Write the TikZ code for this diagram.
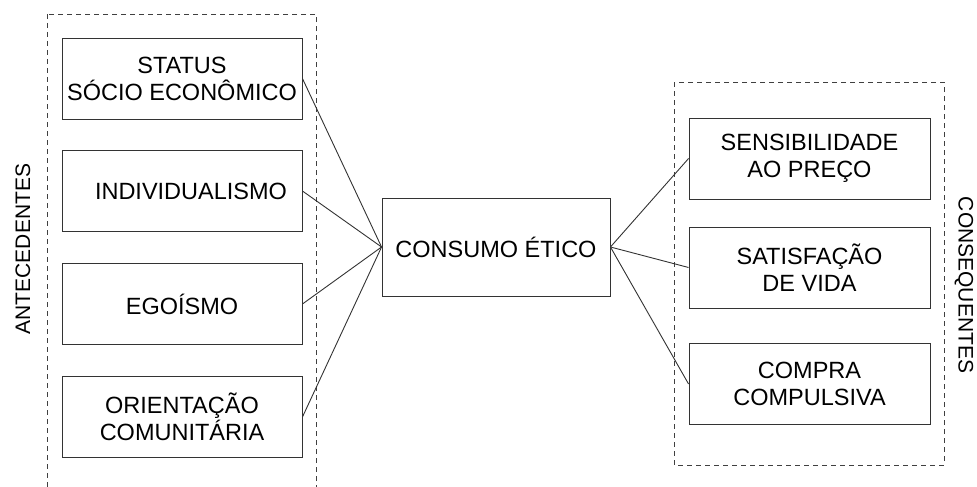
\documentclass[tikz,border=0pt]{standalone}
\usepackage{fontspec}
\setmainfont{Liberation Sans}
\providecommand{\modeloLineColor}{black!80}
\providecommand{\modeloLineWidth}{0.9pt}
\providecommand{\modeloDashColor}{black!75}
\tikzset{
  fator/.style={draw=\modeloLineColor, line width=\modeloLineWidth, minimum width=240pt,
    minimum height=81pt, inner sep=0pt, align=center, font=\fontsize{23.5}{27}\selectfont},
  grupo/.style={draw=\modeloDashColor, line width=\modeloLineWidth, dash pattern=on 5pt off 4pt},
  rotulo/.style={font=\fontsize{21}{25}\selectfont, inner sep=0pt},
  ligacao/.style={draw=\modeloLineColor, line width=\modeloLineWidth}
}
\begin{document}
\begin{tikzpicture}[x=1pt, y=-1pt]
% page frame in pixel units
\useasboundingbox (0,0) rectangle (977,487);
\clip (0,0) rectangle (977,487);
% Dashed groups
\draw[grupo] (47,14) rectangle (316,500);
\draw[grupo] (674,82) rectangle (944,465);
\node[rotulo, rotate=90] (antec) at (23,249) {ANTECEDENTES};
\node[rotulo, rotate=-90] (conseq) at (964,285) {CONSEQUENTES};
% Antecedents
\node[fator] (status) at (182,78.5) {STATUS\\SÓCIO ECONÔMICO};
\node[fator] (indiv) at (182,191) {\hspace*{18pt}INDIVIDUALISMO};
\node[fator] (ego) at (182,304) {EGOÍSMO};
\node[fator] (orient) at (182,417) {ORIENTAÇÃO\\COMUNITÁRIA};
% Central construct
\node[fator, minimum width=228pt, minimum height=98pt] (consumo) at (496,247) {CONSUMO ÉTICO};
% Consequents
\node[fator, minimum width=241pt] (sensib) at (809.5,158.5) {SENSIBILIDADE\\AO PREÇO};
\node[fator, minimum width=241pt] (satisf) at (809.5,267.5) {SATISFAÇÃO\\DE VIDA};
\node[fator, minimum width=241pt] (compra) at (809.5,384) {COMPRA\\COMPULSIVA};
% Links
\foreach \a in {status,indiv,ego,orient}
  \draw[ligacao] (\a.east) -- (consumo.west);
\foreach \c in {sensib,satisf,compra}
  \draw[ligacao] (consumo.east) -- (\c.west);
\end{tikzpicture}
\end{document}
